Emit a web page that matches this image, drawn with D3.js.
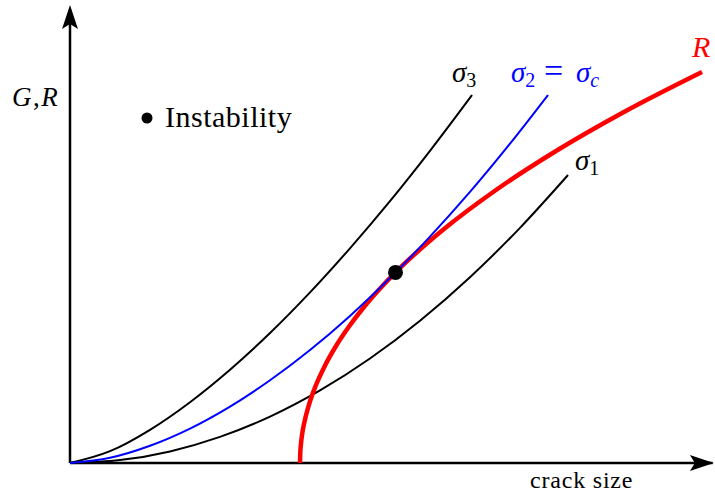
<!DOCTYPE html>
<html>
<head>
<meta charset="utf-8">
<script src="https://cdn.jsdelivr.net/npm/d3@7"></script>
<style>
  body { margin: 0; background: #fff; }
</style>
</head>
<body>
<div id="chart"></div>
<script>
// curve points (crack size, G or R)
const sigma3 = [[0,0],[0.630,0.258],[1.260,0.725],[1.890,1.328],[2.520,2.037],[3.150,2.838],[3.780,3.725],[4.409,4.688],[5.039,5.718],[5.669,6.817],[6.331,8.035]];
const sigma2 = [[0,0],[0.630,0.114],[1.260,0.376],[1.890,0.751],[2.520,1.231],[3.150,1.806],[3.780,2.467],[4.409,3.212],[5.134,4.170],[5.669,4.943],[6.299,5.919],[6.929,6.972],[7.528,8.035]];
const sigma1 = [[0,0],[0.787,0.063],[1.575,0.253],[2.362,0.570],[3.150,1.013],[3.937,1.585],[4.724,2.282],[5.512,3.107],[6.299,4.057],[7.087,5.135],[7.843,6.288]];
const rCurve = [[3.622,0],[3.626,0.213],[3.638,0.426],[3.657,0.639],[3.685,0.852],[3.764,1.277],[3.874,1.703],[4.016,2.129],[4.189,2.555],[4.394,2.980],[4.630,3.406],[4.898,3.832],[5.126,4.162],[5.528,4.683],[5.890,5.109],[6.709,5.961],[7.654,6.812],[8.724,7.664],[9.953,8.537]];
const instability = [5.126, 4.162];

const width = 715, height = 495;
const x = d3.scaleLinear().domain([0, 10]).range([70, 705]);
const y = d3.scaleLinear().domain([0, 10]).range([463, 5]);

const svg = d3.select("#chart").append("svg")
    .attr("width", width)
    .attr("height", height)
    .style("font-family", "'Liberation Serif', 'Times New Roman', 'DejaVu Serif', serif");

// 軸
svg.append("line")
    .attr("x1", x(0)).attr("x2", x(10.12))
    .attr("y1", y(0)).attr("y2", y(0))
    .attr("stroke", "black").attr("stroke-width", 2.5);
svg.append("line")
    .attr("x1", x(0)).attr("x2", x(0))
    .attr("y1", y(0)).attr("y2", y(9.9))
    .attr("stroke", "black").attr("stroke-width", 2.5);

// 矢印
const head = "M0,0 L-24,-8 L-19,0 L-24,8 Z";
svg.append("path").attr("d", head)
    .attr("transform", `translate(${x(10.14)},${y(0)})`);
svg.append("path").attr("d", head)
    .attr("transform", `translate(${x(0)},${y(10)}) rotate(-90)`);

const line = d3.line()
    .x(d => x(d[0]))
    .y(d => y(d[1]))
    .curve(d3.curveMonotoneX);

svg.append("path").datum(sigma3)
    .attr("fill", "none").attr("stroke", "black").attr("stroke-width", 2)
    .attr("d", line);
svg.append("path").datum(sigma1)
    .attr("fill", "none").attr("stroke", "black").attr("stroke-width", 2)
    .attr("d", line);
svg.append("path").datum(rCurve)
    .attr("fill", "none").attr("stroke", "red").attr("stroke-width", 4.5)
    .attr("d", line);
svg.append("path").datum(sigma2)
    .attr("fill", "none").attr("stroke", "blue").attr("stroke-width", 2)
    .attr("d", line);

svg.append("circle")
    .attr("cx", x(instability[0])).attr("cy", y(instability[1]))
    .attr("r", 7.5).attr("fill", "black");

// 凡例
svg.append("circle").attr("cx", 147).attr("cy", 118).attr("r", 5.5).attr("fill", "black");
svg.append("text").attr("x", 165).attr("y", 127)
    .attr("font-size", "30px").attr("letter-spacing", 0.5).text("Instability");

// ラベル
const gr = svg.append("text").attr("x", 12).attr("y", 106)
    .attr("font-size", "27px").attr("letter-spacing", 1.5);
gr.append("tspan").attr("font-style", "italic").text("G");
gr.append("tspan").text(",");
gr.append("tspan").attr("font-style", "italic").text("R");

svg.append("text").attr("x", 530).attr("y", 488)
    .attr("font-size", "24px").attr("letter-spacing", 0.8).text("crack size");

function sigmaLabel(px, py, sub, color) {
    const t = svg.append("text").attr("x", px).attr("y", py)
        .attr("font-size", "29px").attr("fill", color);
    t.append("tspan").attr("font-style", "italic").text("σ");
    t.append("tspan").attr("font-size", "20px").attr("dy", 5).text(sub);
    return t;
}
sigmaLabel(452, 82, "3", "black");
sigmaLabel(575, 170, "1", "black");
const s2 = sigmaLabel(511, 82, "2", "blue");
s2.append("tspan").attr("x", 544).attr("dy", -5).attr("font-size", "34px").text("=");
s2.append("tspan").attr("x", 576).attr("font-style", "italic").text("σ");
s2.append("tspan").attr("font-size", "20px").attr("font-style", "italic").attr("dy", 5).text("c");

svg.append("text").attr("x", 692).attr("y", 57)
    .attr("font-size", "30px").attr("font-style", "italic")
    .attr("fill", "red").text("R");
</script>
</body>
</html>
